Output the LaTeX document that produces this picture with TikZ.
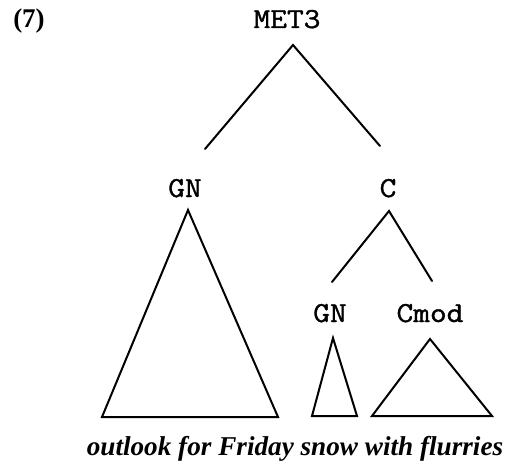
\documentclass[tikz,border=0pt]{standalone}
\usepackage{fontspec}
\setmainfont{Liberation Serif}
\newfontfamily\monofnt[FakeBold=1.2]{Latin Modern Mono}
\newcommand{\monolab}[1]{\scalebox{1.12}[1]{\monofnt\fontsize{29}{29}\selectfont #1}}
\tikzset{
  lab/.style={inner sep=0pt, anchor=base},
  branch/.style={line width=2pt, line join=miter, line cap=round},
}
\begin{document}
\begin{tikzpicture}[x=1pt,y=-1pt]
\useasboundingbox (0,0) rectangle (509,468);
\node[font=\bfseries\fontsize{27}{27}\selectfont, inner sep=0pt, anchor=base] (num) at (29,28) {(7)};
\node[lab] (met) at (287,28) {\monolab{MET3}};
\node[lab] (gn) at (185,197) {\monolab{GN}};
\node[lab] (c) at (388,197) {\monolab{C}};
\node[lab] (gn2) at (330,322) {\monolab{GN}};
\node[lab] (cmod) at (430,322) {\monolab{Cmod}};
\node[font=\bfseries\itshape\fontsize{27.2}{27}\selectfont, inner sep=0pt, anchor=base] (words) at (295,455) {outlook for Friday snow with flurries};
% top branches
\coordinate (metA) at (293,45);
\coordinate (metL) at (205,149);
\coordinate (metR) at (380,146);
\draw[branch] (metL) -- (metA) -- (metR);
% C branches
\coordinate (cA) at (389,211);
\coordinate (cL) at (332,282);
\coordinate (cR) at (432,281);
\draw[branch] (cL) -- (cA) -- (cR);
% GN triangle
\coordinate (gnA) at (188,210);
\coordinate (gnL) at (102,417);
\coordinate (gnR) at (278,417);
\draw[branch] (gnA) -- (gnL) -- (gnR) -- cycle;
% small GN triangle
\coordinate (gn2A) at (333,338);
\coordinate (gn2L) at (312,416);
\coordinate (gn2R) at (357,416);
\draw[branch] (gn2A) -- (gn2L) -- (gn2R) -- cycle;
% Cmod triangle
\coordinate (cmA) at (430,339);
\coordinate (cmL) at (372,416);
\coordinate (cmR) at (492,416);
\draw[branch] (cmA) -- (cmL) -- (cmR) -- cycle;
\end{tikzpicture}
\end{document}
